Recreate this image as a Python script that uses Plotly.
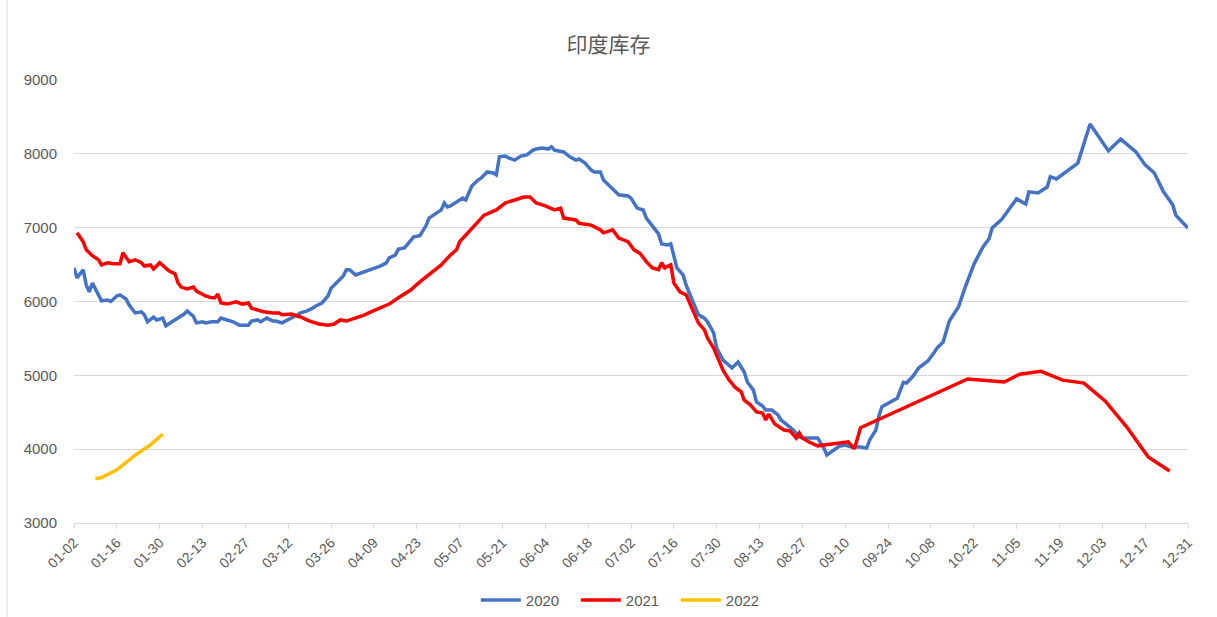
import plotly.graph_objects as go

YEAR = "2020"

dates_2020 = ["01-02","01-03","01-05","01-06","01-07","01-08","01-10","01-11","01-13","01-14",
"01-16","01-17","01-19","01-20","01-22","01-24","01-25","01-26","01-28","01-29","01-31",
"02-01","02-03","02-05","02-07","02-08","02-10","02-11","02-13","02-14","02-16","02-18",
"02-19","02-21","02-23","02-25","02-26","02-28","02-29","03-02","03-03","03-05","03-07",
"03-08","03-10","03-12","03-13","03-15","03-16","03-18","03-20","03-21","03-23","03-25",
"03-26","03-28","03-30","03-31","04-01","04-03","04-04","04-06","04-08","04-09","04-11",
"04-13","04-14","04-16","04-17","04-19","04-21","04-22","04-24","04-26","04-27","04-29",
"05-01","05-02","05-03","05-04","05-06","05-08","05-09","05-11","05-13","05-14","05-16",
"05-18","05-19","05-20","05-22","05-23","05-25","05-26","05-27","05-29","05-31","06-01",
"06-03","06-05","06-06","06-07","06-09","06-10","06-12","06-14","06-15","06-17","06-19",
"06-20","06-22","06-23","06-25","06-27","06-28","07-01","07-02","07-04","07-06","07-07",
"07-09","07-11","07-12","07-14","07-15","07-17","07-19","07-20","07-22","07-24","07-26",
"07-27","07-29","07-30","08-01","08-03","08-04","08-06","08-08","08-09","08-11","08-12",
"08-14","08-15","08-17","08-19","08-20","08-22","08-24","08-26","08-27","09-01","09-03",
"09-04","09-06","09-08","09-10","09-12","09-15","09-17","09-18","09-20","09-21","09-22",
"09-27","09-29","09-30","10-02","10-04","10-07","10-09","10-10","10-12","10-14","10-17",
"10-19","10-22","10-25","10-27","10-28","10-31","11-05","11-08","11-09","11-12","11-15",
"11-16","11-18","11-25","11-29","12-05","12-09","12-14","12-17","12-20","12-23","12-26",
"12-27","12-31"]
values_2020 = [6455,6320,6430,6225,6130,6250,6090,6010,6020,6000,
6075,6090,6035,5955,5845,5860,5820,5725,5790,5750,5775,
5670,5725,5775,5830,5870,5800,5710,5725,5710,5725,5725,
5775,5750,5725,5680,5680,5680,5735,5750,5725,5775,5735,
5735,5710,5750,5775,5820,5845,5870,5910,5940,5980,6075,
6180,6265,6345,6430,6430,6360,6375,6400,6440,6455,6480,
6520,6590,6630,6710,6725,6835,6875,6890,7025,7130,7185,
7240,7335,7280,7295,7350,7400,7375,7565,7645,7670,7755,
7740,7715,7960,7970,7945,7915,7945,7970,7985,8050,8065,
8080,8065,8095,8050,8040,8025,7960,7915,7930,7875,7780,
7755,7755,7645,7565,7485,7445,7430,7400,7265,7240,7130,
7025,6915,6780,6765,6780,6455,6360,6225,6020,5820,5775,
5725,5575,5370,5210,5140,5100,5180,5045,4910,4800,4640,
4585,4530,4530,4465,4395,4330,4260,4165,4150,4150,4015,
3920,3975,4040,4055,4030,4030,4015,4125,4260,4450,4575,
4690,4905,4895,4980,5100,5195,5305,5370,5450,5735,5925,
6170,6500,6740,6850,6995,7105,7390,7320,7485,7470,7550,
7690,7660,7875,8405,8040,8200,8025,7850,7740,7485,7310,
7170,6995]

dates_2021 = ["01-03","01-05","01-06","01-08","01-10","01-11","01-13","01-15","01-17","01-18",
"01-20","01-22","01-24","01-25","01-27","01-28","01-30","02-01","02-02","02-04","02-05",
"02-06","02-08","02-10","02-11","02-14","02-16","02-17","02-18","02-19","02-21","02-24",
"02-26","02-28","02-29","03-02","03-04","03-07","03-09","03-10","03-13","03-16","03-19",
"03-22","03-25","03-27","03-29","03-31","04-03","04-06","04-08","04-11","04-14","04-17",
"04-21","04-24","04-27","05-01","05-04","05-06","05-07","05-09","05-12","05-15","05-19",
"05-22","05-25","05-28","05-30","06-01","06-04","06-07","06-09","06-10","06-14","06-15",
"06-19","06-22","06-23","06-26","06-28","07-01","07-03","07-05","07-07","07-09","07-11",
"07-12","07-13","07-15","07-16","07-18","07-20","07-22","07-24","07-26","07-27","07-29",
"07-30","08-01","08-03","08-05","08-07","08-08","08-10","08-12","08-14","08-15","08-16",
"08-18","08-20","08-21","08-23","08-25","08-26","08-27","08-29","09-01","09-11","09-13",
"09-15","10-20","11-01","11-06","11-13","11-20","11-27","12-04","12-11","12-18","12-25"]
values_2021 = [6930,6810,6700,6620,6565,6495,6525,6510,6510,6660,
6540,6565,6525,6480,6495,6440,6525,6455,6415,6375,6250,
6195,6170,6195,6140,6075,6050,6050,6100,5980,5965,5995,
5965,5980,5910,5885,5860,5845,5845,5820,5830,5790,5735,
5695,5680,5695,5750,5735,5775,5820,5860,5910,5965,6050,
6155,6265,6360,6495,6630,6700,6810,6900,7040,7170,7240,
7335,7375,7415,7415,7335,7295,7240,7265,7130,7105,7060,
7035,6970,6930,6970,6860,6810,6700,6650,6540,6455,6430,
6525,6455,6495,6250,6130,6090,5885,5710,5615,5505,5370,
5275,5075,4940,4840,4775,4665,4600,4505,4490,4395,4475,
4340,4285,4260,4245,4150,4220,4150,4100,4045,4100,4004,
4290,4950,4910,5015,5055,4935,4895,4650,4300,3895,3705]

dates_2022 = ["01-09","01-11","01-16","01-22","01-27","01-31"]
values_2022 = [3600,3615,3720,3920,4060,4205]

tick_labels = ["01-02","01-16","01-30","02-13","02-27","03-12","03-26","04-09","04-23",
"05-07","05-21","06-04","06-18","07-02","07-16","07-30","08-13","08-27","09-10",
"09-24","10-08","10-22","11-05","11-19","12-03","12-17","12-31"]

series = [
    ("2020", dates_2020, values_2020, "#4472C4"),
    ("2021", dates_2021, values_2021, "#FF0000"),
    ("2022", dates_2022, values_2022, "#FFC000"),
]

font_family = "Liberation Sans, Noto Sans CJK SC, sans-serif"
fig = go.Figure()
for name, d, v, c in series:
    fig.add_trace(go.Scatter(
        x=[f"{YEAR}-{s}" for s in d], y=v, name=name, mode="lines",
        line=dict(color=c, width=3.5), hoverinfo="x+y"))

fig.update_layout(
    width=1217, height=617,
    margin=dict(l=74, r=29, t=80, b=94),
    paper_bgcolor="white", plot_bgcolor="white",
    font=dict(family=font_family, color="#595959", size=14),
    title=dict(text="印度库存", x=0.5, xanchor="center", y=0.928, yanchor="middle",
               yref="container",
               font=dict(size=21, color="#595959", family="Noto Sans CJK SC, sans-serif")),
    showlegend=True,
    legend=dict(orientation="h", x=0.391, xanchor="left", xref="container",
                y=0.027, yanchor="middle", yref="container",
                font=dict(size=15, color="#595959"), itemwidth=40,
                entrywidth=45, entrywidthmode="pixels",
                tracegroupgap=0),
    xaxis=dict(
        type="date", automargin=False,
        range=[f"{YEAR}-01-02", f"{YEAR}-12-31"],
        tickmode="array",
        tickvals=[f"{YEAR}-{s}" for s in tick_labels],
        ticktext=tick_labels,
        tickangle=-45,
        tickfont=dict(size=14, color="#595959"),
        showgrid=False,
        showline=True, linecolor="#d9d9d9", linewidth=1,
        ticks="outside", ticklen=5, tickcolor="#d9d9d9",
        zeroline=False,
    ),
    yaxis=dict(
        automargin=False,
        range=[3000, 9000], dtick=1000, tick0=3000,
        showgrid=True, gridcolor="#d9d9d9", gridwidth=1,
        showline=False, zeroline=False,
        tickfont=dict(size=15, color="#595959"),
        ticks="", ticklabelstandoff=16,
    ),
    shapes=[dict(type="line", xref="paper", yref="paper",
                 x0=-0.0601, x1=-0.0601, y0=-0.212, y1=1.18,
                 line=dict(color="#d9d9d9", width=1))],
)

fig.write_html("out.html", config={"displayModeBar": False},
               post_script="document.body.style.margin='0';document.body.style.overflow='hidden';")
